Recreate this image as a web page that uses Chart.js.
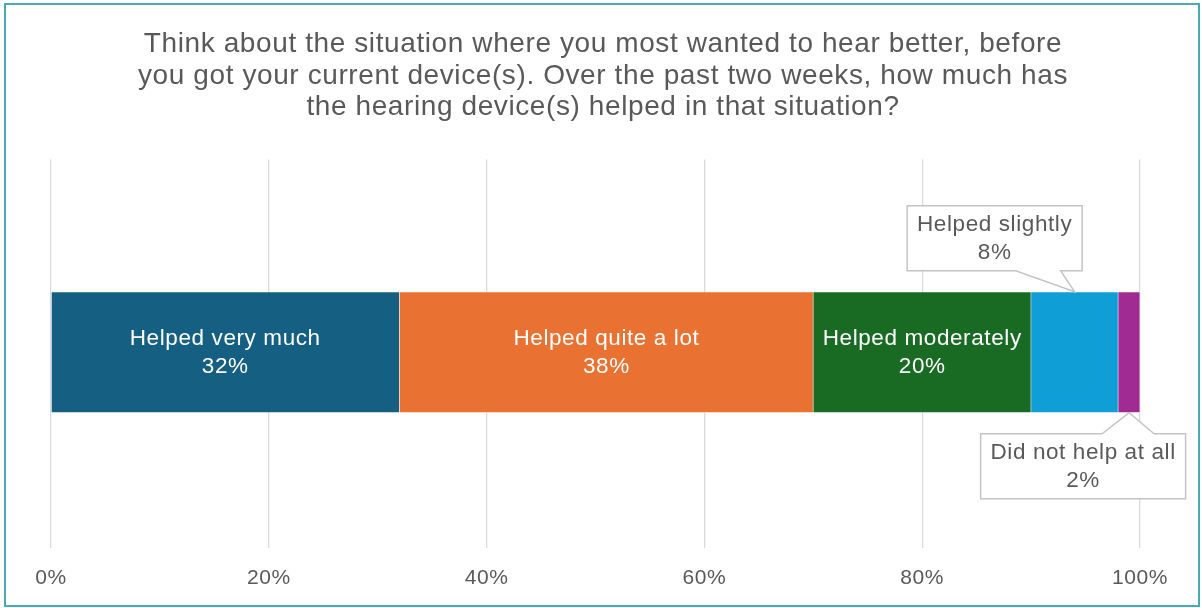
<!DOCTYPE html>
<html>
<head>
<meta charset="utf-8">
<script src="https://cdn.jsdelivr.net/npm/chart.js@4/dist/chart.umd.min.js"></script>
<style>
  html, body { margin: 0; padding: 0; background: #ffffff; }
  #wrap { position: relative; width: 1202px; height: 608px; }
  #frame { position: absolute; left: 4px; top: 3px; width: 1192px; height: 600px;
           border: 2px solid #4aa9b2; pointer-events: none; }
  canvas { display: block; }
</style>
</head>
<body>
<div id="wrap">
  <canvas id="c" width="1202" height="608"></canvas>
  <div id="frame"></div>
</div>
<script>
// Survey answers and their shares (%)
const categories = ['Helped very much', 'Helped quite a lot', 'Helped moderately', 'Helped slightly', 'Did not help at all'];
const values = [32, 38, 20, 8, 2];
const colors = ['#156082', '#E97132', '#196B24', '#0F9ED5', '#A02B93'];
const xTicks = [0, 20, 40, 60, 80, 100];
const titleLines = [
  'Think about the situation where you most wanted to hear better, before',
  'you got your current device(s). Over the past two weeks, how much has',
  'the hearing device(s) helped in that situation?'
];

const FONT = "'Liberation Sans', Arial, sans-serif";
const GREY = '#595959';
const SPACING = '0.6px';

// Segments listed here get a callout box; the rest are labelled inside the bar
const calloutStyle = {
  3: { side: 'top',    dx: -80, gap: 21, w: 175, h: 65, base: [-59, -14] },
  4: { side: 'bottom', dx: -46, gap: 21, w: 205, h: 65, base: [-27, 25] }
};

// Slightly wider text tracking for every string on the canvas
const tracking = {
  id: 'tracking',
  beforeInit(chart) { chart.ctx.letterSpacing = SPACING; },
  beforeLayout(chart) { chart.ctx.letterSpacing = SPACING; },
  beforeDraw(chart) { chart.ctx.letterSpacing = SPACING; }
};

const segmentLabels = {
  id: 'segmentLabels',
  afterDatasetsDraw(chart) {
    const ctx = chart.ctx;
    const xs = chart.scales.x;
    ctx.save();
    ctx.letterSpacing = SPACING;
    ctx.font = '22.5px ' + FONT;
    ctx.textAlign = 'center';
    ctx.textBaseline = 'middle';
    chart.data.datasets.forEach((ds, i) => {
      const bar = chart.getDatasetMeta(i).data[0];
      const start = values.slice(0, i).reduce((a, b) => a + b, 0);
      const cx = xs.getPixelForValue(start + values[i] / 2);
      const top = bar.y - bar.height / 2;
      const bottom = bar.y + bar.height / 2;
      const text = [categories[i], values[i] + '%'];
      const co = calloutStyle[i];
      if (!co) {
        ctx.fillStyle = '#ffffff';
        ctx.fillText(text[0], cx, bar.y - 13);
        ctx.fillText(text[1], cx, bar.y + 15);
        return;
      }
      const bx = cx + co.dx - co.w / 2;
      const by = co.side === 'top' ? top - co.gap - co.h : bottom + co.gap;
      const tipY = co.side === 'top' ? top : bottom;
      const edgeY = co.side === 'top' ? by + co.h : by;
      ctx.beginPath();
      ctx.moveTo(bx, by);
      if (co.side === 'bottom') {
        ctx.lineTo(cx + co.base[0], by);
        ctx.lineTo(cx, tipY);
        ctx.lineTo(cx + co.base[1], by);
      }
      ctx.lineTo(bx + co.w, by);
      ctx.lineTo(bx + co.w, by + co.h);
      if (co.side === 'top') {
        ctx.lineTo(cx + co.base[1], edgeY);
        ctx.lineTo(cx, tipY);
        ctx.lineTo(cx + co.base[0], edgeY);
      }
      ctx.lineTo(bx, by + co.h);
      ctx.closePath();
      ctx.fillStyle = '#ffffff';
      ctx.fill();
      ctx.lineWidth = 1.5;
      ctx.strokeStyle = '#c4c4c4';
      ctx.stroke();
      ctx.fillStyle = GREY;
      const my = by + co.h / 2;
      ctx.fillText(text[0], bx + co.w / 2, my - 13.5);
      ctx.fillText(text[1], bx + co.w / 2, my + 14.5);
    });
    ctx.restore();
  }
};

new Chart(document.getElementById('c'), {
  type: 'bar',
  data: {
    labels: [''],
    datasets: categories.map((name, i) => ({
      label: name,
      data: [values[i]],
      backgroundColor: colors[i],
      borderColor: 'rgba(255,255,255,0.6)',
      borderWidth: 0.75,
      barThickness: 121
    }))
  },
  options: {
    indexAxis: 'y',
    responsive: false,
    animation: false,
    layout: { padding: { left: 51, right: 47, top: 0, bottom: 0 } },
    plugins: {
      legend: { display: false },
      tooltip: { enabled: false },
      title: {
        display: true,
        text: titleLines,
        color: GREY,
        font: { family: FONT, size: 28, weight: 'normal', lineHeight: 1.125 },
        padding: { top: 29, bottom: 36 }
      }
    },
    scales: {
      x: {
        stacked: true,
        min: 0,
        max: 100,
        afterBuildTicks(axis) { axis.ticks = xTicks.map(v => ({ value: v })); },
        afterFit(axis) { axis.height = 63; },
        ticks: {
          callback: v => v + '%',
          color: GREY,
          font: { family: FONT, size: 21 },
          padding: 18,
          maxRotation: 0
        },
        grid: { color: '#d9d9d9', lineWidth: 1.25, drawTicks: true, tickLength: 3 },
        border: { display: false }
      },
      y: {
        stacked: true,
        position: 'right',
        afterFit(axis) { axis.width = 15; },
        ticks: { display: false },
        grid: { display: false },
        border: { display: false }
      }
    }
  },
  plugins: [tracking, segmentLabels]
});
</script>
</body>
</html>
